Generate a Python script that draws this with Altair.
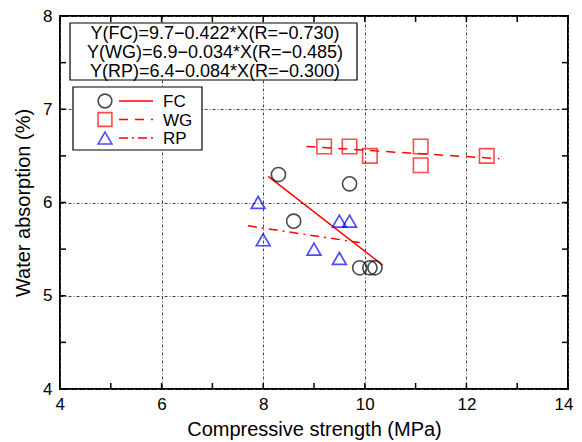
import altair as alt
import pandas as pd

# ---- data ----
fc_x = [8.3, 8.6, 9.7, 9.9, 10.1, 10.2]
fc_y = [6.3, 5.8, 6.2, 5.3, 5.3, 5.3]
wg_x = [9.2, 9.7, 10.1, 11.1, 11.1, 12.4]
wg_y = [6.6, 6.6, 6.5, 6.6, 6.4, 6.5]
rp_x = [7.9, 8.0, 9.0, 9.5, 9.7, 9.5]
rp_y = [6.0, 5.6, 5.5, 5.8, 5.8, 5.4]

fit_fc_x = [8.1, 10.35]
fit_fc_y = [6.28, 5.33]
fit_wg_x = [8.85, 12.65]
fit_wg_y = [6.60, 6.47]
fit_rp_x = [7.7, 9.9]
fit_rp_y = [5.75, 5.57]

equations = [
    "Y(FC)=9.7\u22120.422*X(R=\u22120.730)",
    "Y(WG)=6.9\u22120.034*X(R=\u22120.485)",
    "Y(RP)=6.4\u22120.084*X(R=\u22120.300)",
]
series = ["FC", "WG", "RP"]
x_labels = [4, 6, 8, 10, 12, 14]
y_labels = [4, 5, 6, 7, 8]
x_minor = [4, 5, 6, 7, 8, 9, 10, 11, 12, 13, 14]
y_minor = [4, 4.5, 5, 5.5, 6, 6.5, 7, 7.5, 8]

W, H = 508, 373
FONT = "Liberation Sans"

xs = alt.Scale(domain=[4, 14], nice=False, zero=False)
ys = alt.Scale(domain=[4, 8], nice=False, zero=False)

xaxis = alt.Axis(values=x_labels, title="Compressive strength (MPa)", ticks=False,
                 domain=False, grid=True, labelPadding=7, titlePadding=7,
                 labelFlush=True, labelFlushOffset=5)
yaxis = alt.Axis(values=y_labels, title="Water absorption (%)", ticks=False,
                 domain=False, grid=True, labelPadding=8, titlePadding=9,
                 labelFlush=False)

def pts(xv, yv):
    return pd.DataFrame({"x": xv, "y": yv})

X = lambda: alt.X("x:Q", scale=xs, axis=xaxis)
Y = lambda: alt.Y("y:Q", scale=ys, axis=yaxis)

fc_pts = alt.Chart(pts(fc_x, fc_y)).mark_point(
    shape="circle", size=200, filled=False, color="black", strokeWidth=1.6
).encode(x=X(), y=Y())
wg_pts = alt.Chart(pts(wg_x, wg_y)).mark_point(
    shape="square", size=210, filled=False, color="#ff0000", strokeWidth=1.6
).encode(x=X(), y=Y())
rp_pts = alt.Chart(pts(rp_x, rp_y)).mark_point(
    shape="triangle-up", size=190, filled=False, color="#0000ff", strokeWidth=1.7
).encode(x=X(), y=Y())

fc_line = alt.Chart(pts(fit_fc_x, fit_fc_y)).mark_line(
    color="#ff0000", strokeWidth=1.5).encode(x=X(), y=Y())
wg_line = alt.Chart(pts(fit_wg_x, fit_wg_y)).mark_line(
    color="#ff0000", strokeWidth=1.5, strokeDash=[9, 7]).encode(x=X(), y=Y())
rp_line = alt.Chart(pts(fit_rp_x, fit_rp_y)).mark_line(
    color="#ff0000", strokeWidth=1.5, strokeDash=[9, 5, 2, 5]).encode(x=X(), y=Y())

# inward ticks on all four sides
xt = pd.DataFrame({"x": x_minor})
yt = pd.DataFrame({"y": y_minor})
tick_bottom = alt.Chart(xt).mark_rule(color="black", strokeWidth=1.5).encode(
    x=X(), y=alt.value(H), y2=alt.value(H - 6))
tick_top = alt.Chart(xt).mark_rule(color="black", strokeWidth=1.5).encode(
    x=X(), y=alt.value(0), y2=alt.value(6))
tick_left = alt.Chart(yt).mark_rule(color="black", strokeWidth=1.5).encode(
    y=Y(), x=alt.value(0), x2=alt.value(6))
tick_right = alt.Chart(yt).mark_rule(color="black", strokeWidth=1.5).encode(
    y=Y(), x=alt.value(W), x2=alt.value(W - 6))

one = pd.DataFrame({"a": [0]})

# equation box
eq_box = alt.Chart(one).mark_rect(fill="white", stroke="black", strokeWidth=1.2).encode(
    x=alt.value(10), x2=alt.value(297), y=alt.value(7), y2=alt.value(64))
eq_texts = []
for i, t in enumerate(equations):
    eq_texts.append(alt.Chart(one).mark_text(
        text=t, font=FONT, fontSize=18, align="center", baseline="middle", color="black"
    ).encode(x=alt.value(155), y=alt.value(17.5 + 19 * i)))

# legend box
lg_box = alt.Chart(one).mark_rect(fill="white", stroke="black", strokeWidth=1.2).encode(
    x=alt.value(13), x2=alt.value(142), y=alt.value(71), y2=alt.value(134))
shapes = ["circle", "square", "triangle-up"]
scol = ["black", "#ff0000", "#0000ff"]
dashes = [[1, 0], [9, 7], [9, 4, 2, 4]]
lg = []
for i, s in enumerate(series):
    yy = 85 + 18.5 * i
    lg.append(alt.Chart(one).mark_point(shape=shapes[i], size=190, filled=False,
                                        color=scol[i], strokeWidth=1.6).encode(
        x=alt.value(45), y=alt.value(yy)))
    lg.append(alt.Chart(one).mark_rule(color="#ff0000", strokeWidth=1.4,
                                       strokeDash=dashes[i]).encode(
        x=alt.value(59), x2=alt.value(93), y=alt.value(yy)))
    lg.append(alt.Chart(one).mark_text(text=s, font=FONT, fontSize=17, align="left",
                                       baseline="middle", color="black").encode(
        x=alt.value(103), y=alt.value(yy + 1)))

chart = alt.layer(
    rp_line, wg_line, fc_line, fc_pts, wg_pts, rp_pts,
    tick_bottom, tick_top, tick_left, tick_right,
    eq_box, *eq_texts, lg_box, *lg
).properties(
    width=W, height=H,
    autosize=alt.AutoSizeParams(type="none"),
    padding={"left": 52, "top": 8, "right": 6, "bottom": 53},
).configure_view(
    stroke="black", strokeWidth=2
).configure_axis(
    labelFont=FONT, labelFontSize=17, labelColor="black",
    titleFont=FONT, titleFontSize=20, titleFontWeight="normal", titleColor="black",
    gridColor="#444", gridDash=[3, 2, 1, 2], gridWidth=1, gridOpacity=1,
)

chart.save("out.html", embed_options={"renderer": "svg", "actions": False})
